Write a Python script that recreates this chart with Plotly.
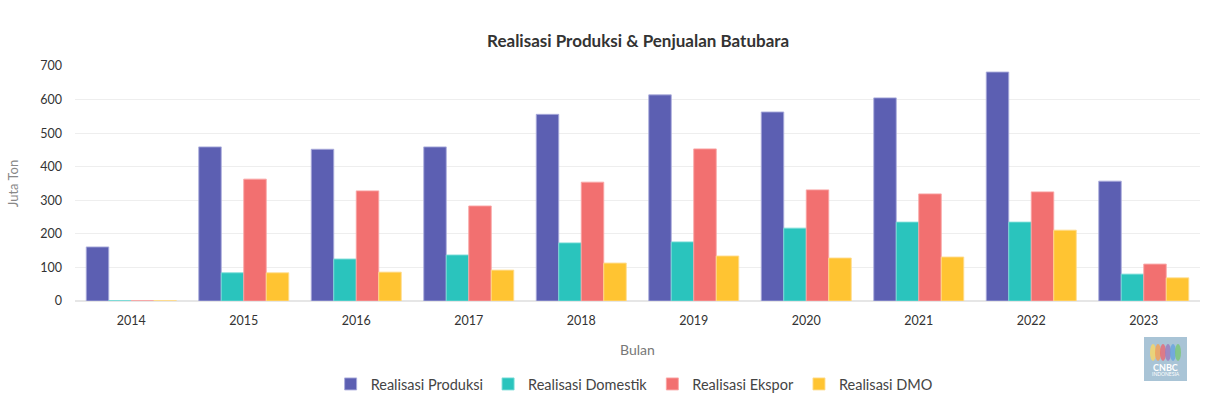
import plotly.graph_objects as go

years = ["2014", "2015", "2016", "2017", "2018", "2019", "2020", "2021", "2022", "2023"]
produksi = [161, 459, 452, 459, 556, 614, 563, 605, 682, 357]
domestik = [1, 84, 125, 137, 173, 176, 217, 235, 235, 80]
ekspor = [1, 363, 328, 283, 354, 453, 331, 319, 325, 110]
dmo = [1, 84, 86, 92, 113, 134, 128, 131, 211, 69]

series = [
    ("Realisasi Produksi", produksi, "#5c5fb2", "rgba(170,172,220,0.9)"),
    ("Realisasi Domestik", domestik, "#2ac4bd", "rgba(120,220,215,0.9)"),
    ("Realisasi Ekspor", ekspor, "#f27070", "rgba(250,165,165,0.9)"),
    ("Realisasi DMO", dmo, "#ffc432", "rgba(255,220,140,0.9)"),
]

fig = go.Figure()
for name, vals, col, line in series:
    fig.add_trace(go.Bar(x=years, y=vals, name=name, marker=dict(color=col, line=dict(color=line, width=1))))

font = "Lato, 'Noto Sans', sans-serif"
fig.update_layout(
    width=1212, height=399,
    margin=dict(l=75, r=12, t=66, b=98, autoexpand=False),
    paper_bgcolor="white", plot_bgcolor="white",
    font=dict(family=font, size=12, color="#333333"),
    title=dict(text="Realisasi Produksi & Penjualan Batubara", x=0.5265, xanchor="center", y=0.897, yanchor="middle",
               font=dict(size=17, color="#333333", family=font, weight="bold")),
    barmode="group", bargap=0.2, bargroupgap=0,
    legend=dict(orientation="h", x=0.497, xanchor="center", yref="container", y=1 - 384 / 399, yanchor="middle",
                font=dict(size=14.5, color="#444444")),
    showlegend=True,
)
fig.update_xaxes(showgrid=False, zeroline=False, showline=False, ticks="", tickfont=dict(size=12.5, color="#333333"),
                 ticklabelstandoff=10,
                 title=dict(text="Bulan", font=dict(size=14, color="#777777"), standoff=18))
fig.update_yaxes(range=[0, 700], dtick=100, showgrid=True, gridcolor="#eeeeee", zeroline=True, zerolinecolor="#e6e6e6",
                 tickfont=dict(size=12.5, color="#333333"), ticklabelstandoff=12,
                 title=dict(text="Juta Ton", font=dict(size=13, color="#888888"), standoff=18))

# logo placeholder (pixel -> paper helpers)
def px(xp):
    return (xp - 75) / 1125

def py(yp):
    return (301 - yp) / 235

fig.add_shape(type="rect", xref="paper", yref="paper", x0=px(1144), x1=px(1187),
              y0=py(381), y1=py(337), fillcolor="#a9c4d6", line=dict(width=0), layer="above")
peacock = ["#f5d66b", "#f2a25c", "#e46f7a", "#9b7fc0", "#6aa6dd", "#7cc77a"]
for i, c in enumerate(peacock):
    cx = 1153 + i * 5
    fig.add_shape(type="circle", xref="paper", yref="paper", x0=px(cx - 3), x1=px(cx + 3),
                  y0=py(361), y1=py(344), fillcolor=c, line=dict(width=0), layer="above", opacity=0.85)
fig.add_annotation(xref="paper", yref="paper", x=px(1165.5), xanchor="center", y=py(367), yanchor="middle",
                   text="<b>CNBC</b>", showarrow=False, font=dict(size=9, color="white", family=font))
fig.add_annotation(xref="paper", yref="paper", x=px(1165.5), xanchor="center", y=py(374), yanchor="middle",
                   text="INDONESIA", showarrow=False, font=dict(size=5, color="white", family=font))

fig.write_html("out.html", config={"displayModeBar": False},
               post_script="document.body.style.margin='0';document.body.style.overflow='hidden';")
